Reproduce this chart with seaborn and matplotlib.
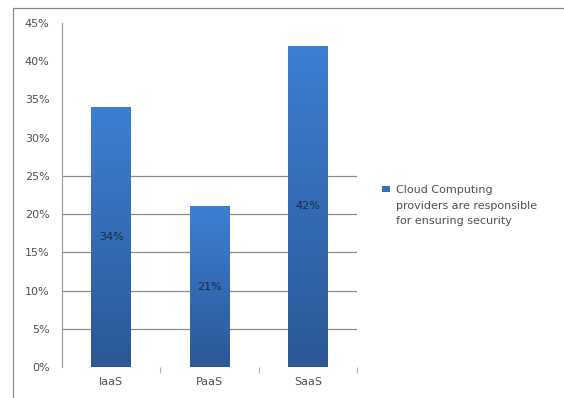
import numpy as np
import pandas as pd
import matplotlib
matplotlib.use("Agg")
import matplotlib.pyplot as plt
import matplotlib.patches as mpatches
from matplotlib.legend_handler import HandlerPatch
from matplotlib.colors import LinearSegmentedColormap
import seaborn as sns

# Data
services = ["IaaS", "PaaS", "SaaS"]
share = [34, 21, 42]
bar_labels = ["34%", "21%", "42%"]
y_ticks = [0, 5, 10, 15, 20, 25, 30, 35, 40, 45]
y_tick_labels = ["0%", "5%", "10%", "15%", "20%", "25%", "30%", "35%", "40%", "45%"]
series_name = "Cloud Computing\nproviders are responsible\nfor ensuring security"

df = pd.DataFrame({"service": services, "share": share})

sns.set_theme(style="white")
plt.rcParams["font.family"] = ["DejaVu Sans"]

fig = plt.figure(figsize=(5.64, 3.98), dpi=100)
fig.patch.set_facecolor("white")
ax = fig.add_axes([62 / 564, 1 - 367 / 398, (357 - 62) / 564, (367 - 23) / 398])

bar_color = "#3470c0"
sns.barplot(data=df, x="service", y="share", color=bar_color, width=0.4,
            saturation=1, ax=ax, edgecolor="none")

ax.set_xlim(-0.5, 2.5)
ax.set_ylim(0, 45)

# vertical gradient fill inside each bar
cmap = LinearSegmentedColormap.from_list("bar", ["#2b5896", "#3c7fd3"])
grad = np.linspace(0, 1, 256).reshape(-1, 1)
for p in ax.patches:
    x0, y0 = p.get_x(), p.get_y()
    w, h = p.get_width(), p.get_height()
    im = ax.imshow(grad, cmap=cmap, origin="lower", aspect="auto",
                   extent=[x0, x0 + w, y0, y0 + h], zorder=p.get_zorder() + 0.1)
    im.set_clip_path(p)
ax.set_xlim(-0.5, 2.5)
ax.set_ylim(0, 45)

# value labels at mid-height of each bar
for i, (v, lab) in enumerate(zip(share, bar_labels)):
    ax.text(i, v / 2, lab, ha="center", va="center", fontsize=8,
            color="#1c2a3e", zorder=5)

# axes styling
ax.set_xlabel("")
ax.set_ylabel("")
ax.set_yticks(y_ticks)
ax.set_yticklabels(y_tick_labels)
ax.tick_params(axis="y", length=0, pad=9, labelsize=8, labelcolor="#505050")
ax.tick_params(axis="x", length=0, pad=7, labelsize=8, labelcolor="#505050")
ax.set_xticks([0.5, 1.5, 2.5], minor=True)
ax.tick_params(axis="x", which="minor", length=4, width=0.8, color="#b0b0b0",
               bottom=True)

for s in ["top", "right", "bottom"]:
    ax.spines[s].set_visible(False)
ax.spines["left"].set_color("#a0a0a0")
ax.spines["left"].set_linewidth(0.9)

ax.set_axisbelow(True)
ax.yaxis.grid(True, color="#8c8c8c", linewidth=0.9)
for tick_val, gl in zip(ax.get_yticks(), ax.get_ygridlines()):
    if tick_val == 0 or tick_val > 25:
        gl.set_visible(False)


# legend key sits beside the first line of the wrapped label
def top_square(legend, orig_handle, xdescent, ydescent, width, height, fontsize):
    shift = 1.5 * fontsize
    return mpatches.Rectangle((-xdescent, -ydescent + shift), width, height)


handle = mpatches.Patch(facecolor="#3470c0", edgecolor="none")
leg = fig.legend([handle], [series_name], loc="upper left",
                 bbox_to_anchor=(382 / 564, 1 - 185 / 398), frameon=False,
                 fontsize=8, labelcolor="#505050", handlelength=0.7,
                 handleheight=0.55, handletextpad=0.55, borderpad=0,
                 borderaxespad=0,
                 handler_map={mpatches.Patch: HandlerPatch(patch_func=top_square)})
for t in leg.get_texts():
    t.set_linespacing(1.7)

# outer chart frame (left and top edges)
fig.add_artist(plt.Line2D([13 / 564, 13 / 564], [0, 1 - 8 / 398],
                          transform=fig.transFigure, color="#8a8a8a", lw=0.9))
fig.add_artist(plt.Line2D([13 / 564, 1], [1 - 8 / 398, 1 - 8 / 398],
                          transform=fig.transFigure, color="#8a8a8a", lw=0.9))

fig.savefig("out.png", dpi=100, facecolor="white")
